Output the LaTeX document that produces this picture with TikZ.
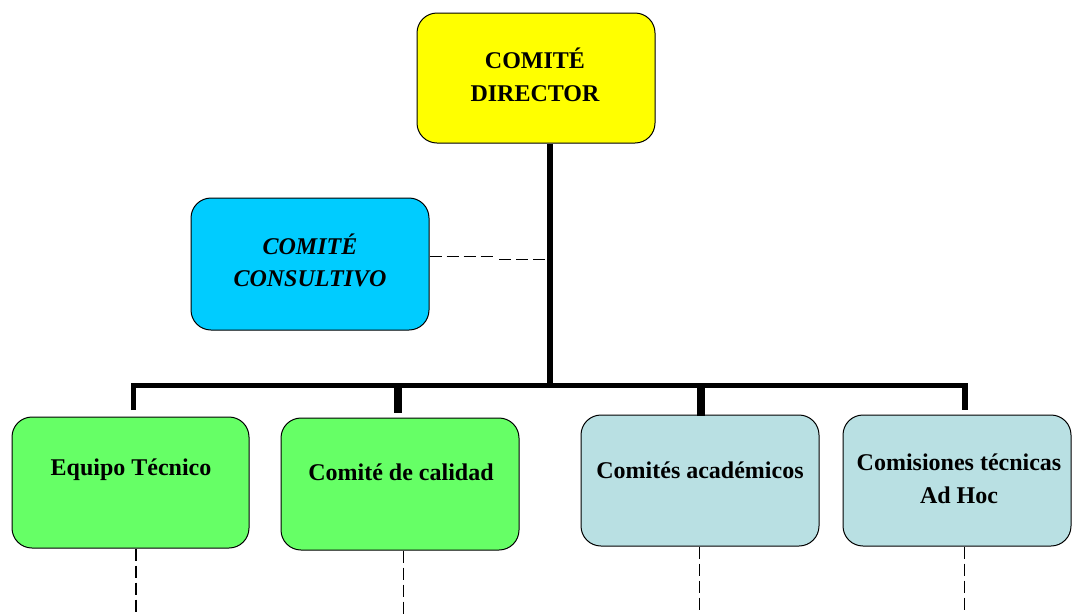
\documentclass[tikz,border=0pt]{standalone}
\usepackage{fontspec}
\setmainfont{Liberation Serif}
\begin{document}
\begin{tikzpicture}[x=1pt,y=-1pt,
  box/.style={draw=black, line width=1pt, rounded corners=20pt, inner sep=0pt},
  txt/.style={font=\fontsize{24}{32.5}\selectfont\bfseries, align=center, inner sep=0pt},
  thick line/.style={line width=5.5pt, miter limit=10, line join=miter},
  dashline/.style={line width=1.5pt, dash pattern=on 12pt off 5pt}]
\useasboundingbox (0,0) rectangle (1072,614);
\definecolor{cyel}{HTML}{FFFF00}
\definecolor{ccyan}{HTML}{00CCFF}
\definecolor{cgreen}{HTML}{66FF66}
\definecolor{clblue}{HTML}{B9E0E3}
% boxes
\node[box, fill=cyel, minimum width=238pt, minimum height=130pt] (dir) at (536,78) {};
\node[box, fill=ccyan, minimum width=238pt, minimum height=132pt] (cons) at (310,264) {};
\node[box, fill=cgreen, minimum width=237pt, minimum height=131pt] (eq) at (130.5,482.5) {};
\node[box, fill=cgreen, minimum width=238pt, minimum height=132pt] (cal) at (400,484) {};
\node[box, fill=clblue, minimum width=238pt, minimum height=131pt] (acad) at (700,480.5) {};
\node[box, fill=clblue, minimum width=228pt, minimum height=131pt] (adhoc) at (957,480.5) {};
% texts
\node[txt] (dirT) at (535,75) {COMITÉ\\DIRECTOR};
\node[txt, font=\fontsize{24}{32.5}\selectfont\bfseries\itshape] (consT) at (310,260.5) {COMITÉ\\CONSULTIVO};
\node[txt] (eqT) at (131,470) {Equipo Técnico};
\node[txt] (calT) at (401,472) {Comité de calidad};
\node[txt] (acadT) at (700,470) {Comités académicos};
\node[txt] (adhocT) at (959,479) {Comisiones técnicas\\Ad Hoc};
% structure
\coordinate (junc) at (549.5,385.5);
\coordinate (consA) at (493,256.7);
\coordinate (consB) at (499,259.3);
\coordinate (trunkC) at (546.5,259.3);
\draw[line width=6pt] (dir.south -| junc) -- ([yshift=-2.5pt]junc);
\draw[thick line] (133.5,410) coordinate (d1) -- (133.5,385.5) -- (965,385.5) -- (965,410) coordinate (d4);
\draw[line width=8pt] (397.5,383) -- (397.5,413) coordinate (d2);
\draw[line width=8pt] (701,383) -- (701,416) coordinate (d3);
\draw[dashline] ([yshift=7.3pt]cons.east) -- (consA);
\draw[dashline] (consB) -- (trunkC);
% dashed drops below
\draw[dashline] (eq.south -| 136,0) -- (136,614);
\draw[dashline] (cal.south -| 403.5,0) -- (403.5,614);
\draw[dashline] (acad.south -| 699.5,0) -- (699.5,610);
\draw[dashline] (adhoc.south -| 964.5,0) -- (964.5,614);
\end{tikzpicture}
\end{document}
